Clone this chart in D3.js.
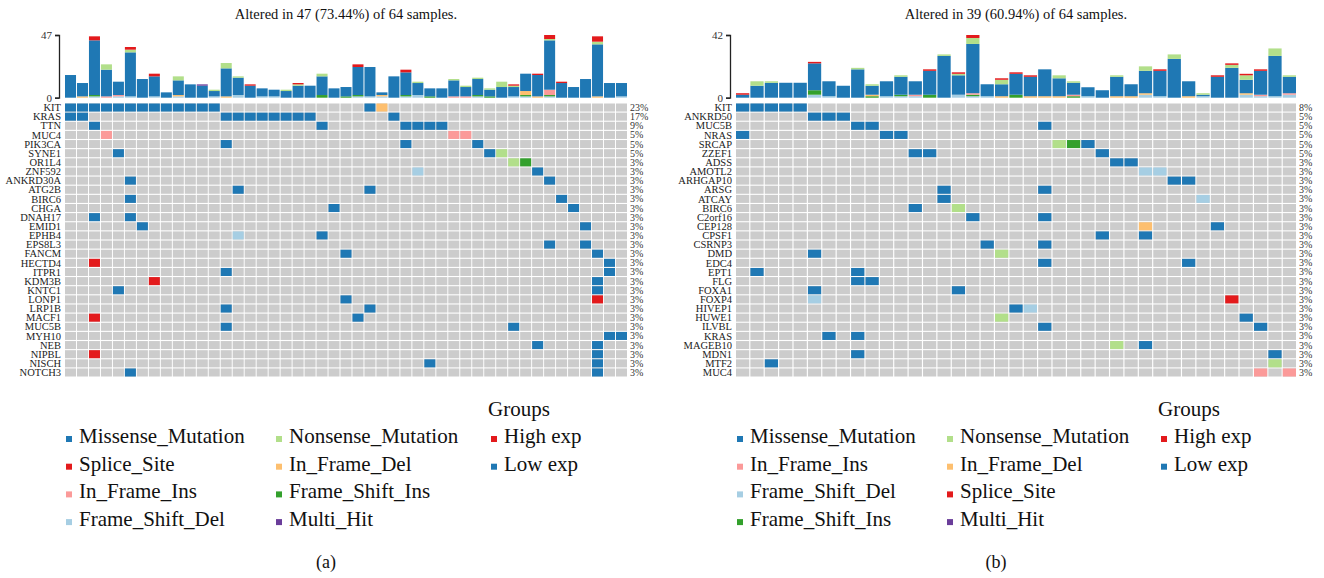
<!DOCTYPE html>
<html>
<head>
<meta charset="utf-8">
<script src="https://cdn.jsdelivr.net/npm/d3@7"></script>
<style>
body { margin: 0; background: #fff; }
svg { display: block; font-family: "Liberation Serif", "Times New Roman", serif; }
</style>
</head>
<body>
<script>
// ---- panel (a) data ----
const titleA = "Altered in 47 (73.44%) of 64 samples.";
const genesA = ["KIT","KRAS","TTN","MUC4","PIK3CA","SYNE1","OR1L4","ZNF592","ANKRD30A","ATG2B",
  "BIRC6","CHGA","DNAH17","EMID1","EPHB4","EPS8L3","FANCM","HECTD4","ITPR1","KDM3B",
  "KNTC1","LONP1","LRP1B","MACF1","MUC5B","MYH10","NEB","NIPBL","NISCH","NOTCH3"];
const pctA = ["23%","17%","9%","5%","5%","5%","3%","3%","3%","3%","3%","3%","3%","3%","3%",
  "3%","3%","3%","3%","3%","3%","3%","3%","3%","3%","3%","3%","3%","3%","3%"];
// one string per gene: type letter + sample column (or range)
const cellsA = ["M0-12 M25 D26","M0-1 M13-20 M27","M2 M21 M28-31","I3 I32-33","M13 M28 M34",
  "M4 M35 N36","N37 G38","F29 M39","M5 M40","M14 M25","M5 M41","M22 M42","M2 M5","M6 M43",
  "F14 M21","M40 M43","M23 M44","S2 M45","M13 M45","S7 M44","M4 M44","M23 S44","M13 M25",
  "S2 M24","M13 M37","M45-46","M39 M44","S2 M44","M30 M44","M5 M44"];
const missA   = [17,10,41,20,10,33,14,15,4,11, 10,9,4,21,13,9,6,5,5,9, 9,14,7,7,21,22,2,16,17,9, 6,7,12,7,12,5,8,7,13,16, 37,11,8,14,39,11,10];
const nonsA   = [0,0,0,4,0,2,0,0,0,3, 0,0,1,4,1,0,0,0,1,1, 0,2,0,0,0,0,0,0,0,1, 0,0,1,1,1,1,4,1,0,0, 1,0,0,0,2,0,0];
const spliceA = [0,0,3,0,0,2,0,2,0,0, 0,0,0,0,0,1,0,0,0,1, 0,0,0,0,2,0,0,0,2,0, 0,0,0,0,0,0,0,1,0,1, 3,1,0,0,4,0,0];
const insA    = [0,0,0,1,1,0,0,0,0,0, 0,0,0,0,0,0,0,0,0,0, 0,0,0,0,0,0,0,0,0,0, 0,0,1,1,0,0,0,0,0,0, 4,0,0,0,0,0,0];
const delA    = [0,1,0,0,0,0,0,0,0,1, 0,0,0,1,0,0,0,0,0,0, 0,0,0,0,0,0,1,0,0,0, 0,0,0,0,0,0,0,0,3,1, 0,0,0,0,1,0,0];
const fsDelA  = [0,0,1,0,1,1,0,1,0,1, 0,0,1,0,2,0,1,1,0,0, 0,0,0,0,1,1,1,0,1,2, 0,0,0,0,1,0,0,1,1,0, 1,0,0,0,0,0,1];
const fsInsA  = [0,0,1,0,0,0,0,0,0,0, 0,0,0,0,0,0,0,0,0,0, 0,2,0,1,1,0,0,0,1,0, 1,0,0,0,1,1,0,0,1,0, 1,0,0,0,0,0,0];
const multiA  = [0,0,0,0,0,0,0,0,0,0, 0,1,0,0,0,0,0,0,0,0, 0,0,0,0,0,0,0,0,0,0, 0,0,0,0,0,0,0,0,0,0, 0,0,0,0,0,0,0];
const legendA = [["Missense_Mutation","Splice_Site","In_Frame_Ins","Frame_Shift_Del"],
  ["Nonsense_Mutation","In_Frame_Del","Frame_Shift_Ins","Multi_Hit"],
  ["High exp","Low exp"]];

// ---- panel (b) data ----
const titleB = "Altered in 39 (60.94%) of 64 samples.";
const genesB = ["KIT","ANKRD50","MUC5B","NRAS","SRCAP","ZZEF1","ADSS","AMOTL2","ARHGAP10","ARSG",
  "ATCAY","BIRC6","C2orf16","CEP128","CPSF1","CSRNP3","DMD","EDC4","EPT1","FLG",
  "FOXA1","FOXP4","HIVEP1","HUWE1","ILVBL","KRAS","MAGEB10","MDN1","MTF2","MUC4"];
const pctB = ["8%","5%","5%","5%","5%","5%","3%","3%","3%","3%","3%","3%","3%","3%","3%",
  "3%","3%","3%","3%","3%","3%","3%","3%","3%","3%","3%","3%","3%","3%","3%"];
const cellsB = ["M0-4","M5-7","M8-9 M21","M0 M10-11","N22 G23 M24","M12-13 M25","M26-27","F28-29",
  "M30-31","M14 M21","M14 F32","M12 N15","M16 M21","D28 M33","M25 M28","M17 M21","M5 N18",
  "M21 M31","M1 M8","M8-9","M5 M15","F5 S34","M19 F20","N18 M35","M21 M36","M6 M8","N26 M28",
  "M8 M37","M2 N37","I36 I38"];
const missB   = [2,8,10,10,10,18,10,8,19,6, 10,12,9,16,28,13,33,8,8,14, 13,18,12,8,6,5,13,8,15,17, 26,10,1,14,20,9,16,27,11];
const nonsB   = [0,3,1,0,0,0,0,0,1,1, 0,1,0,0,1,1,4,0,3,0, 0,0,2,1,0,0,1,0,3,0, 3,0,1,0,2,3,0,5,1];
const spliceB = [1,0,0,0,0,1,0,0,0,0, 0,0,0,1,0,1,2,0,1,1, 1,0,0,0,0,0,0,0,0,1, 0,0,0,1,1,1,1,0,0];
const insB    = [0,0,0,0,0,0,0,0,0,0, 0,0,1,0,0,0,1,0,0,0, 0,0,0,1,0,0,0,0,0,0, 0,0,0,0,0,0,1,0,1];
const delB    = [0,0,0,0,0,0,0,0,0,1, 0,0,0,0,0,0,0,0,1,0, 1,1,1,0,0,0,1,1,1,0, 0,1,0,0,0,1,0,0,0];
const fsDelB  = [0,0,0,0,0,2,1,0,0,0, 1,1,1,0,0,2,1,1,0,0, 0,0,0,0,1,0,0,0,2,1, 0,0,1,0,0,2,1,1,2];
const fsInsB  = [0,0,0,0,0,3,0,0,0,1, 0,1,0,2,0,0,1,0,0,2, 0,0,0,1,0,0,0,0,0,0, 0,0,0,0,0,0,0,0,0];
const multiB  = [0,0,0,0,0,0,0,0,0,0, 0,0,0,0,0,0,0,0,0,0, 0,0,0,0,0,0,0,0,0,0, 0,0,0,0,0,0,0,0,0];
const legendB = [["Missense_Mutation","In_Frame_Ins","Frame_Shift_Del","Frame_Shift_Ins"],
  ["Nonsense_Mutation","In_Frame_Del","Splice_Site","Multi_Hit"],
  ["High exp","Low exp"]];

// ---- drawing ----
var width = 1324, height = 578;
var svg = d3.select("body").append("svg").attr("width", width).attr("height", height);

var colors = {M:"#1f78b4", N:"#b2df8a", S:"#e31a1c", I:"#fb9a99", D:"#fdbf6f", F:"#a6cee3", G:"#33a02c", H:"#6a3d9a"};
var legendColors = {
  "Missense_Mutation":colors.M, "Nonsense_Mutation":colors.N, "Splice_Site":colors.S,
  "In_Frame_Ins":colors.I, "In_Frame_Del":colors.D, "Frame_Shift_Del":colors.F,
  "Frame_Shift_Ins":colors.G, "Multi_Hit":colors.H, "High exp":"#e31a1c", "Low exp":"#1f78b4"
};
var stackKeys = ["F","G","D","I","M","H","N","S"]; // bottom to top

function parseCells(str) {
  var out = [];
  str.split(" ").forEach(function(tok) {
    var t = tok[0], r = tok.slice(1).split("-").map(Number);
    for (var c = r[0]; c <= (r.length > 1 ? r[1] : r[0]); c++) out.push({col: c, type: t});
  });
  return out;
}

function drawPanel(p) {
  var n = p.series.M.length;
  var cols = d3.range(n);
  var g = svg.append("g");

  var x = d3.scaleBand().domain(cols).range([p.x0, p.x1]).paddingInner(0.08);
  var y = d3.scaleBand().domain(p.genes).range([103.5, 376.5]).paddingInner(0.12);
  var yb = d3.scaleLinear().domain([0, p.max]).range([97.7, 35]);

  // title
  g.append("text")
    .attr("x", (p.x0 + p.x1) / 2).attr("y", 19)
    .attr("text-anchor", "middle")
    .style("font-size", "14.5px").style("fill", "#111")
    .text(p.title);

  // stacked bars
  var table = cols.map(function(i) {
    var o = {i: i};
    stackKeys.forEach(function(k) { o[k] = p.series[k][i]; });
    return o;
  });
  var stacked = d3.stack().keys(stackKeys)(table);
  g.selectAll("g.layer").data(stacked).enter().append("g")
    .attr("class", "layer")
    .attr("fill", function(d) { return colors[d.key]; })
    .selectAll("rect").data(function(d) { return d; }).enter().append("rect")
    .attr("x", function(d) { return x(d.data.i); })
    .attr("width", x.bandwidth())
    .attr("y", function(d) { return yb(d[1]); })
    .attr("height", function(d) { return yb(d[0]) - yb(d[1]); });

  // axis bracket
  var ax = g.append("g")
    .attr("transform", "translate(" + p.axisX + ",0)")
    .call(d3.axisLeft(yb).tickValues([0, p.max]).tickSize(4).tickSizeOuter(4).tickPadding(3));
  ax.selectAll("path, line").attr("stroke", "#222").attr("stroke-width", 1.3);
  ax.selectAll("text").style("font-size", "11px").style("font-family", "Liberation Serif, serif").attr("fill", "#333");

  // background grid
  p.genes.forEach(function(gene) {
    g.append("g").selectAll("rect").data(cols).enter().append("rect")
      .attr("x", function(c) { return x(c); })
      .attr("y", y(gene))
      .attr("width", x.bandwidth())
      .attr("height", y.bandwidth())
      .attr("fill", "#cccccc");
  });

  // mutation cells
  p.cells.forEach(function(str, gi) {
    var gene = p.genes[gi];
    g.append("g").selectAll("rect").data(parseCells(str)).enter().append("rect")
      .attr("x", function(d) { return x(d.col); })
      .attr("y", y(gene))
      .attr("width", x.bandwidth())
      .attr("height", y.bandwidth())
      .attr("fill", function(d) { return colors[d.type]; });
  });

  // gene names
  g.selectAll("text.gene").data(p.genes).enter().append("text")
    .attr("class", "gene")
    .attr("x", p.x0 - 4)
    .attr("y", function(d) { return y(d) + y.bandwidth() / 2; })
    .attr("dy", "0.35em")
    .attr("text-anchor", "end")
    .style("font-size", "10.5px").style("fill", "#222")
    .text(function(d) { return d; });

  // percentages
  g.selectAll("text.pct").data(p.pct).enter().append("text")
    .attr("class", "pct")
    .attr("x", p.x1 + 3)
    .attr("y", function(d, i) { return y(p.genes[i]) + y.bandwidth() / 2; })
    .attr("dy", "0.35em")
    .style("font-size", "10px").style("fill", "#333")
    .text(function(d) { return d; });

  // legend
  g.append("text")
    .attr("x", p.legX[2] - 3).attr("y", 416)
    .style("font-size", "21px").style("fill", "#111")
    .text("Groups");
  p.legend.forEach(function(colItems, ci) {
    colItems.forEach(function(name, ri) {
      var ly = 443 + ri * 27.7;
      g.append("rect")
        .attr("x", p.legX[ci]).attr("y", ly - 7)
        .attr("width", 6).attr("height", 6)
        .attr("fill", legendColors[name]);
      g.append("text")
        .attr("x", p.legX[ci] + 13).attr("y", ly)
        .style("font-size", "21px").style("fill", "#111")
        .text(name);
    });
  });

  // caption
  g.append("text")
    .attr("x", p.capX).attr("y", 568)
    .attr("text-anchor", "middle")
    .style("font-size", "18px").style("fill", "#111")
    .text(p.caption);
}

drawPanel({
  title: titleA, genes: genesA, pct: pctA, cells: cellsA, legend: legendA, caption: "(a)",
  series: {M: missA, N: nonsA, S: spliceA, I: insA, D: delA, F: fsDelA, G: fsInsA, H: multiA},
  max: 47, x0: 65, x1: 627, axisX: 59, legX: [66, 276, 491], capX: 326
});
drawPanel({
  title: titleB, genes: genesB, pct: pctB, cells: cellsB, legend: legendB, caption: "(b)",
  series: {M: missB, N: nonsB, S: spliceB, I: insB, D: delB, F: fsDelB, G: fsInsB, H: multiB},
  max: 42, x0: 736, x1: 1296, axisX: 730, legX: [737, 947, 1161], capX: 996
});
</script>
</body>
</html>
